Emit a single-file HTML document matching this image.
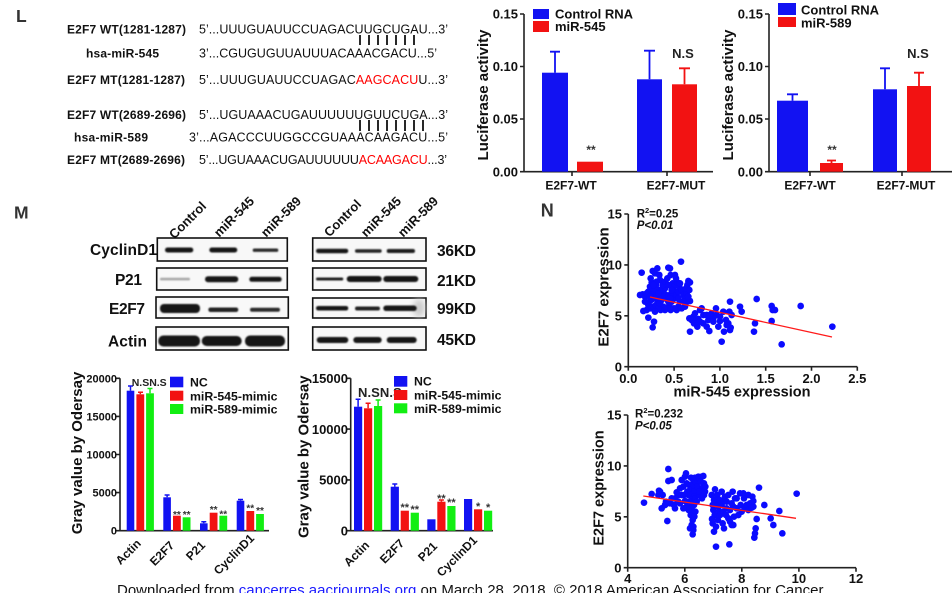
<!DOCTYPE html>
<html>
<head>
<meta charset="utf-8">
<style>
html,body{margin:0;padding:0;background:#fff;}
svg{display:block;}
text{font-family:"Liberation Sans",Arial,sans-serif;}
.b{font-weight:bold;}
</style>
</head>
<body>
<svg width="952" height="593" viewBox="0 0 952 593" xmlns="http://www.w3.org/2000/svg">
<defs>
<filter id="bl" x="-20%" y="-100%" width="140%" height="300%"><feGaussianBlur stdDeviation="0.9"/></filter>
<filter id="bl2" x="-50%" y="-50%" width="200%" height="200%"><feGaussianBlur stdDeviation="3"/></filter>
</defs>
<rect width="952" height="593" fill="#fff"/>

<!-- Panel letters -->
<text x="16" y="22" class="b" font-size="17.5" fill="#333">L</text>
<text x="14" y="218.3" class="b" font-size="17.5" fill="#333">M</text>
<text x="540.7" y="216.7" class="b" font-size="18" fill="#333">N</text>

<!-- Sequences -->
<g fill="#111">
<text x="67" y="33.3" class="b" font-size="12" textLength="119">E2F7 WT(1281-1287)</text>
<text x="199" y="33.3" font-size="12.5" textLength="249">5’...UUUGUAUUCCUAGACUUGCUGAU...3’</text>
<text x="86" y="57.3" class="b" font-size="12" textLength="73">hsa-miR-545</text>
<text x="199" y="57.3" font-size="12.5" textLength="238">3’...CGUGUGUUAUUUACAAACGACU...5’</text>
<text x="67" y="84" class="b" font-size="12" textLength="118">E2F7 MT(1281-1287)</text>
<text x="199" y="84" font-size="12.5" textLength="249">5’...UUUGUAUUCCUAGAC<tspan fill="#f00">AAGCACU</tspan>U...3’</text>
<text x="67" y="119" class="b" font-size="12" textLength="119">E2F7 WT(2689-2696)</text>
<text x="199" y="119" font-size="12.5" textLength="249">5’...UGUAAACUGAUUUUUUGUUCUGA...3’</text>
<text x="74" y="141.7" class="b" font-size="12" textLength="74">hsa-miR-589</text>
<text x="189" y="141.7" font-size="12.5" textLength="259">3’...AGACCCUUGGCCGUAAACAAGACU...5’</text>
<text x="67" y="164" class="b" font-size="12" textLength="118">E2F7 MT(2689-2696)</text>
<text x="199" y="164" font-size="12.5" textLength="248">5’...UGUAAACUGAUUUUUU<tspan fill="#f00">ACAAGACU</tspan>...3’</text>
</g>
<g stroke="#111" stroke-width="1.8">
<path d="M360 35V45M369 35V45M378 35V45M387 35V45M396 35V45M405 35V45M414 35V45"/>
<path d="M360 120V131M369 120V131M378 120V131M387 120V131M396 120V131M405 120V131M414 120V131M423 120V131"/>
</g>

<!-- Chart A: top middle -->
<g stroke="#222" stroke-width="1.6" fill="none">
<path d="M524 14V171.7H713"/>
<path d="M520 14H524M520 66.5H524M520 119H524M520 171.7H524M572 171.7V176M667 171.7V176"/>
</g>
<g class="b" font-size="13" fill="#111" text-anchor="end">
<text x="518" y="18.6">0.15</text>
<text x="518" y="71.1">0.10</text>
<text x="518" y="123.6">0.05</text>
<text x="518" y="176.3">0.00</text>
</g>
<text transform="translate(488 95) rotate(-90)" text-anchor="middle" class="b" font-size="15" fill="#111">Luciferase activity</text>
<rect x="542" y="72.7" width="26" height="99" fill="#1212f2"/>
<path d="M555 72.7V51.7M550 51.7H560" stroke="#1212f2" stroke-width="1.8"/>
<rect x="577" y="161.7" width="26" height="10" fill="#f21212"/>
<rect x="637" y="79.3" width="25" height="92.4" fill="#1212f2"/>
<path d="M649.5 79.3V50.7M644 50.7H655" stroke="#1212f2" stroke-width="1.8"/>
<rect x="672" y="84.3" width="25" height="87.4" fill="#f21212"/>
<path d="M684.5 84.3V68.3M679 68.3H690" stroke="#f21212" stroke-width="1.8"/>
<text x="591" y="154" text-anchor="middle" class="b" font-size="12" fill="#333">**</text>
<text x="683" y="58" text-anchor="middle" class="b" font-size="13" fill="#222">N.S</text>
<rect x="533" y="9" width="16" height="10" fill="#1212f2"/>
<rect x="533" y="21" width="16" height="11" fill="#f21212"/>
<text x="555" y="18.5" class="b" font-size="13" fill="#111">Control RNA</text>
<text x="555" y="31" class="b" font-size="13" fill="#111">miR-545</text>
<text x="571" y="189.3" text-anchor="middle" class="b" font-size="12" fill="#111">E2F7-WT</text>
<text x="676" y="189.3" text-anchor="middle" class="b" font-size="12" fill="#111">E2F7-MUT</text>

<!-- Chart B: top right -->
<g stroke="#222" stroke-width="1.6" fill="none">
<path d="M769 14V171.7H952"/>
<path d="M765 14H769M765 66.5H769M765 119H769M765 171.7H769M810 171.7V176M902 171.7V176"/>
</g>
<g class="b" font-size="13" fill="#111" text-anchor="end">
<text x="763" y="18.6">0.15</text>
<text x="763" y="71.1">0.10</text>
<text x="763" y="123.6">0.05</text>
<text x="763" y="176.3">0.00</text>
</g>
<text transform="translate(733 95) rotate(-90)" text-anchor="middle" class="b" font-size="15" fill="#111">Luciferase activity</text>
<rect x="777" y="100.7" width="31" height="71" fill="#1212f2"/>
<path d="M792.5 100.7V94.3M787 94.3H798" stroke="#1212f2" stroke-width="1.8"/>
<rect x="820" y="163" width="23" height="8.7" fill="#f21212"/>
<path d="M831.5 163V160.5M827 160.5H836" stroke="#f21212" stroke-width="1.8"/>
<rect x="873" y="89.3" width="24" height="82.4" fill="#1212f2"/>
<path d="M885 89.3V68.3M880 68.3H890" stroke="#1212f2" stroke-width="1.8"/>
<rect x="907" y="86" width="24" height="85.7" fill="#f21212"/>
<path d="M919 86V72.7M914 72.7H924" stroke="#f21212" stroke-width="1.8"/>
<text x="832" y="154" text-anchor="middle" class="b" font-size="12" fill="#333">**</text>
<text x="918" y="58" text-anchor="middle" class="b" font-size="13" fill="#222">N.S</text>
<rect x="778" y="3" width="18" height="12" fill="#1212f2"/>
<rect x="778" y="17" width="18" height="10" fill="#f21212"/>
<text x="801" y="14.5" class="b" font-size="13" fill="#111">Control RNA</text>
<text x="801" y="27.5" class="b" font-size="13" fill="#111">miR-589</text>
<text x="810" y="189.3" text-anchor="middle" class="b" font-size="12" fill="#111">E2F7-WT</text>
<text x="906" y="189.3" text-anchor="middle" class="b" font-size="12" fill="#111">E2F7-MUT</text>

<!-- Western blot -->
<g class="b" font-size="13" fill="#111" text-anchor="end">
<text transform="rotate(-45 207 207)" x="207" y="207">Control</text>
<text transform="rotate(-45 255 202)" x="255" y="202">miR-545</text>
<text transform="rotate(-45 302 202)" x="302" y="202">miR-589</text>
<text transform="rotate(-45 362 205)" x="362" y="205">Control</text>
<text transform="rotate(-45 402 202)" x="402" y="202">miR-545</text>
<text transform="rotate(-45 439 202)" x="439" y="202">miR-589</text>
</g>
<g fill="#111" class="b" font-size="15.5">
<text x="90" y="255" textLength="67">CyclinD1</text>
<text x="115" y="285" textLength="27">P21</text>
<text x="109" y="314" textLength="36">E2F7</text>
<text x="108" y="346.7" textLength="39">Actin</text>
<text x="437" y="256" textLength="39">36KD</text>
<text x="437" y="286" textLength="39">21KD</text>
<text x="437" y="314" textLength="39">99KD</text>
<text x="437" y="345" textLength="39">45KD</text>
</g>
<g fill="#f8f8f8" stroke="#111" stroke-width="1.6">
<rect x="157.3" y="238" width="130" height="23"/>
<rect x="156.7" y="268" width="130.6" height="22"/>
<rect x="156" y="297" width="132.3" height="21"/>
<rect x="156" y="327" width="132.3" height="23"/>
<rect x="312.7" y="238" width="113.3" height="23"/>
<rect x="312.7" y="268" width="113.3" height="22"/>
<rect x="312.7" y="298" width="113.3" height="20"/>
<rect x="312.7" y="327" width="113.3" height="23"/>
</g>
<ellipse cx="419" cy="308" rx="6" ry="9" fill="#ccc" filter="url(#bl2)"/>
<g fill="#151515" filter="url(#bl)">
<!-- left CyclinD1 -->
<rect x="165" y="247.5" width="28.3" height="5" rx="2.5"/>
<rect x="209.3" y="247.5" width="28" height="5" rx="2.5"/>
<rect x="252.7" y="248.5" width="25.6" height="3.4" rx="1.7" fill="#2a2a2a"/>
<!-- left P21 -->
<rect x="160" y="277.8" width="30" height="2.6" rx="1.3" fill="#a8a8a8"/>
<rect x="205" y="276.3" width="33.3" height="6" rx="3"/>
<rect x="249.3" y="276.8" width="32.4" height="5" rx="2.5"/>
<!-- left E2F7 -->
<rect x="160" y="304" width="40" height="9" rx="4"/>
<rect x="208.3" y="307.5" width="30" height="4.5" rx="2.2" fill="#222"/>
<rect x="250" y="307.8" width="30" height="4" rx="2" fill="#2a2a2a"/>
<!-- left Actin -->
<rect x="158.3" y="335.5" width="41.7" height="11" rx="5"/>
<rect x="201.7" y="336" width="40" height="10" rx="5"/>
<rect x="245" y="335.5" width="40" height="11" rx="5"/>
<!-- right CyclinD1 -->
<rect x="316" y="248.7" width="32.3" height="4.5" rx="2.2"/>
<rect x="355" y="249.2" width="26.7" height="3.5" rx="1.7" fill="#222"/>
<rect x="386.7" y="249" width="28.3" height="4" rx="2" fill="#1c1c1c"/>
<!-- right P21 -->
<rect x="316" y="277.5" width="27.3" height="3" rx="1.5" fill="#222"/>
<rect x="346.7" y="276" width="35" height="6" rx="3"/>
<rect x="383.3" y="276" width="35" height="6" rx="3"/>
<!-- right E2F7 -->
<rect x="316" y="306" width="32.3" height="4.5" rx="2.2"/>
<rect x="355" y="306.5" width="25" height="4" rx="2" fill="#222"/>
<rect x="383.3" y="305.5" width="33.4" height="5.5" rx="2.7"/>
<!-- right Actin -->
<rect x="316.7" y="337" width="31.6" height="6" rx="3"/>
<rect x="353.3" y="337" width="28.4" height="6" rx="3"/>
<rect x="386.7" y="337" width="30" height="6" rx="3"/>
</g>

<!-- Chart C: bottom left bars -->
<g stroke="#222" stroke-width="1.6" fill="none">
<path d="M120 378.3V530.7H269"/>
<path d="M116 378.3H120M116 416.4H120M116 454.5H120M116 492.6H120M116 530.7H120"/>
</g>
<g class="b" font-size="11" fill="#111" text-anchor="end">
<text x="117" y="382.3">20000</text>
<text x="117" y="420.4">15000</text>
<text x="117" y="458.5">10000</text>
<text x="117" y="496.6">5000</text>
<text x="117" y="534.7">0</text>
</g>
<text transform="translate(82 453) rotate(-90)" text-anchor="middle" class="b" font-size="15" fill="#111">Gray value by Odersay</text>
<g>
<rect x="126.7" y="390.7" width="7.6" height="140" fill="#1212f2"/>
<rect x="136.4" y="394.3" width="7.8" height="136.4" fill="#f21212"/>
<rect x="146.1" y="393.3" width="7.8" height="137.4" fill="#12ee12"/>
<rect x="163.3" y="497.3" width="7.6" height="33.4" fill="#1212f2"/>
<rect x="173" y="515.7" width="7.8" height="15" fill="#f21212"/>
<rect x="182.7" y="517.3" width="7.8" height="13.4" fill="#12ee12"/>
<rect x="200" y="523.3" width="7.6" height="7.4" fill="#1212f2"/>
<rect x="209.7" y="512.7" width="7.8" height="18" fill="#f21212"/>
<rect x="219.4" y="515.7" width="7.8" height="15" fill="#12ee12"/>
<rect x="236.7" y="500.7" width="7.6" height="30" fill="#1212f2"/>
<rect x="246.4" y="511" width="7.8" height="19.7" fill="#f21212"/>
<rect x="256.1" y="514" width="7.8" height="16.7" fill="#12ee12"/>
</g>
<g stroke-width="1.5" fill="none">
<path d="M130.5 390.7V386M128 386H133" stroke="#1212f2"/>
<path d="M140.3 394.3V392.3M138 392.3H143" stroke="#f21212"/>
<path d="M150 393.3V388.5M147.5 388.5H152.5" stroke="#12ee12"/>
<path d="M167.1 497.3V495M164.6 495H169.6" stroke="#1212f2"/>
<path d="M203.8 523.3V521.8M201.3 521.8H206.3" stroke="#1212f2"/>
<path d="M240.5 500.7V499.5M238 499.5H243" stroke="#1212f2"/>
</g>
<g class="b" font-size="10" fill="#333" text-anchor="middle">
<text x="176.9" y="518">**</text>
<text x="186.6" y="518">**</text>
<text x="213.6" y="513">**</text>
<text x="223.3" y="517.7">**</text>
<text x="250.3" y="511.7">**</text>
<text x="260" y="514">**</text>
</g>
<text x="131.7" y="386" class="b" font-size="10.5" fill="#222" textLength="35">N.SN.S</text>
<rect x="170" y="376.7" width="13.3" height="10.6" fill="#1212f2"/>
<rect x="170" y="390.7" width="13.3" height="10" fill="#f21212"/>
<rect x="170" y="404" width="13.3" height="10" fill="#12ee12"/>
<g class="b" font-size="12.3" fill="#111">
<text x="190" y="386.5">NC</text>
<text x="190" y="400.3">miR-545-mimic</text>
<text x="190" y="413.5">miR-589-mimic</text>
</g>
<g class="b" font-size="12" fill="#111" text-anchor="end">
<text transform="rotate(-45 141.7 544.2)" x="141.7" y="544.2">Actin</text>
<text transform="rotate(-45 175 546.2)" x="175" y="546.2">E2F7</text>
<text transform="rotate(-45 206 546)" x="206" y="546">P21</text>
<text transform="rotate(-45 255 539)" x="255" y="539">CyclinD1</text>
</g>

<!-- Chart D: bottom middle bars -->
<g stroke="#222" stroke-width="1.6" fill="none">
<path d="M350.7 378.3V530.7H493"/>
<path d="M346.7 378.3H350.7M346.7 429.1H350.7M346.7 479.9H350.7M346.7 530.7H350.7"/>
</g>
<g class="b" font-size="13" fill="#111" text-anchor="end">
<text x="348" y="383">15000</text>
<text x="348" y="433.8">10000</text>
<text x="348" y="484.6">5000</text>
<text x="348" y="535.4">0</text>
</g>
<text transform="translate(308.5 456.7) rotate(-90)" text-anchor="middle" class="b" font-size="15" fill="#111">Gray value by Odersay</text>
<g>
<rect x="354" y="406.7" width="8.2" height="124" fill="#1212f2"/>
<rect x="364" y="408.3" width="8.2" height="122.4" fill="#f21212"/>
<rect x="374" y="406" width="8.2" height="124.7" fill="#12ee12"/>
<rect x="390.7" y="486.7" width="8.2" height="44" fill="#1212f2"/>
<rect x="400.7" y="510.7" width="8.2" height="20" fill="#f21212"/>
<rect x="410.7" y="512.7" width="8.2" height="18" fill="#12ee12"/>
<rect x="427.3" y="519.3" width="8.2" height="11.4" fill="#1212f2"/>
<rect x="437.3" y="501.7" width="8.2" height="29" fill="#f21212"/>
<rect x="447.3" y="506" width="8.2" height="24.7" fill="#12ee12"/>
<rect x="464" y="499" width="8.2" height="31.7" fill="#1212f2"/>
<rect x="474" y="509.3" width="8.2" height="21.4" fill="#f21212"/>
<rect x="484" y="510.7" width="8.2" height="20" fill="#12ee12"/>
</g>
<g stroke-width="1.5" fill="none">
<path d="M358.1 406.7V399.3M355.6 399.3H360.6" stroke="#1212f2"/>
<path d="M368.1 408.3V403.3M365.6 403.3H370.6" stroke="#f21212"/>
<path d="M378.1 406V400M375.6 400H380.6" stroke="#12ee12"/>
<path d="M394.8 486.7V484M392.3 484H397.3" stroke="#1212f2"/>
<path d="M441.4 501.7V500M438.9 500H443.9" stroke="#f21212"/>
</g>
<g class="b" font-size="11" fill="#333" text-anchor="middle">
<text x="404.8" y="511">**</text>
<text x="414.8" y="513.2">**</text>
<text x="441.4" y="502">**</text>
<text x="451.4" y="506.2">**</text>
<text x="478.1" y="510.2">*</text>
<text x="488.1" y="510.9">*</text>
</g>
<text x="358" y="397" class="b" font-size="13" fill="#222" textLength="43.7">N.SN.S</text>
<rect x="394" y="376" width="13.3" height="10.7" fill="#1212f2"/>
<rect x="394" y="390" width="13.3" height="10" fill="#f21212"/>
<rect x="394" y="403.3" width="13.3" height="10" fill="#12ee12"/>
<g class="b" font-size="12.3" fill="#111">
<text x="414" y="385.5">NC</text>
<text x="414" y="399.5">miR-545-mimic</text>
<text x="414" y="413">miR-589-mimic</text>
</g>
<g class="b" font-size="12" fill="#111" text-anchor="end">
<text transform="rotate(-45 370 546)" x="370" y="546">Actin</text>
<text transform="rotate(-45 405 544)" x="405" y="544">E2F7</text>
<text transform="rotate(-45 438 547)" x="438" y="547">P21</text>
<text transform="rotate(-45 478 541)" x="478" y="541">CyclinD1</text>
</g>

<!-- Scatter top -->
<g stroke="#222" stroke-width="1.6" fill="none">
<path d="M628.3 214V366.7H857.3"/>
<path d="M624.3 214H628.3M624.3 264.9H628.3M624.3 315.8H628.3M624.3 366.7H628.3M628.3 366.7V370.7M674.1 366.7V370.7M719.9 366.7V370.7M765.7 366.7V370.7M811.5 366.7V370.7M857.3 366.7V370.7"/>
</g>
<g class="b" font-size="13" fill="#111" text-anchor="end">
<text x="622" y="218.7">15</text>
<text x="622" y="269.6">10</text>
<text x="622" y="320.5">5</text>
<text x="622" y="371.4">0</text>
</g>
<g class="b" font-size="13" fill="#111" text-anchor="middle">
<text x="628.3" y="383">0.0</text>
<text x="674.1" y="383">0.5</text>
<text x="719.9" y="383">1.0</text>
<text x="765.7" y="383">1.5</text>
<text x="811.5" y="383">2.0</text>
<text x="857.3" y="383">2.5</text>
</g>
<text x="742" y="396.5" text-anchor="middle" class="b" font-size="14.5" fill="#111">miR-545 expression</text>
<text transform="translate(608.5 287) rotate(-90)" text-anchor="middle" class="b" font-size="15" fill="#111">E2F7 expression</text>
<text x="636.7" y="217.7" class="b" font-size="11.5" fill="#111">R<tspan font-size="7.5" dy="-4.5">2</tspan><tspan dy="4.5">=0.25</tspan></text>
<text x="636.7" y="229" class="b" font-size="11.5" font-style="italic" fill="#111">P&lt;0.01</text>
<g transform="translate(580 195) scale(0.33333)" fill="#0b0bff">
<circle cx="185" cy="233" r="10"/><circle cx="180" cy="300" r="10"/><circle cx="188" cy="298" r="10"/><circle cx="195" cy="305" r="10"/><circle cx="200" cy="295" r="10"/><circle cx="205" cy="290" r="10"/><circle cx="210" cy="275" r="10"/><circle cx="215" cy="262" r="10"/><circle cx="212" cy="250" r="10"/><circle cx="218" cy="228" r="10"/><circle cx="225" cy="235" r="10"/><circle cx="232" cy="220" r="10"/><circle cx="238" cy="240" r="10"/><circle cx="240" cy="255" r="10"/><circle cx="228" cy="270" r="10"/><circle cx="222" cy="285" r="10"/><circle cx="215" cy="300" r="10"/><circle cx="210" cy="318" r="10"/><circle cx="205" cy="330" r="10"/><circle cx="200" cy="345" r="10"/><circle cx="190" cy="348" r="10"/><circle cx="212" cy="340" r="10"/><circle cx="220" cy="335" r="10"/><circle cx="228" cy="330" r="10"/><circle cx="235" cy="320" r="10"/><circle cx="240" cy="310" r="10"/><circle cx="245" cy="300" r="10"/><circle cx="250" cy="290" r="10"/><circle cx="255" cy="280" r="10"/><circle cx="248" cy="270" r="10"/><circle cx="255" cy="260" r="10"/><circle cx="262" cy="250" r="10"/><circle cx="265" cy="218" r="10"/><circle cx="270" cy="220" r="10"/><circle cx="272" cy="240" r="10"/><circle cx="278" cy="265" r="10"/><circle cx="282" cy="275" r="10"/><circle cx="285" cy="290" r="10"/><circle cx="280" cy="305" r="10"/><circle cx="275" cy="320" r="10"/><circle cx="268" cy="330" r="10"/><circle cx="262" cy="340" r="10"/><circle cx="255" cy="345" r="10"/><circle cx="250" cy="335" r="10"/><circle cx="242" cy="345" r="10"/><circle cx="235" cy="340" r="10"/><circle cx="225" cy="350" r="10"/><circle cx="218" cy="312" r="10"/><circle cx="230" cy="300" r="10"/><circle cx="238" cy="285" r="10"/><circle cx="245" cy="315" r="10"/><circle cx="260" cy="310" r="10"/><circle cx="270" cy="300" r="10"/><circle cx="285" cy="310" r="10"/><circle cx="290" cy="300" r="10"/><circle cx="295" cy="290" r="10"/><circle cx="298" cy="275" r="10"/><circle cx="292" cy="262" r="10"/><circle cx="288" cy="250" r="10"/><circle cx="285" cy="240" r="10"/><circle cx="303" cy="200" r="10"/><circle cx="300" cy="265" r="10"/><circle cx="305" cy="285" r="10"/><circle cx="310" cy="300" r="10"/><circle cx="315" cy="310" r="10"/><circle cx="320" cy="295" r="10"/><circle cx="318" cy="280" r="10"/><circle cx="322" cy="270" r="10"/><circle cx="325" cy="258" r="10"/><circle cx="330" cy="262" r="10"/><circle cx="328" cy="285" r="10"/><circle cx="322" cy="320" r="10"/><circle cx="310" cy="320" r="10"/><circle cx="300" cy="320" r="10"/><circle cx="295" cy="335" r="10"/><circle cx="290" cy="345" r="10"/><circle cx="282" cy="340" r="10"/><circle cx="272" cy="345" r="10"/><circle cx="265" cy="320" r="10"/><circle cx="258" cy="300" r="10"/><circle cx="248" cy="305" r="10"/><circle cx="235" cy="295" r="10"/><circle cx="225" cy="310" r="10"/><circle cx="205" cy="368" r="10"/><circle cx="222" cy="380" r="10"/><circle cx="218" cy="397" r="10"/><circle cx="330" cy="318" r="10"/><circle cx="325" cy="305" r="10"/><circle cx="315" cy="335" r="10"/><circle cx="305" cy="340" r="10"/><circle cx="295" cy="310" r="10"/><circle cx="275" cy="285" r="10"/><circle cx="265" cy="270" r="10"/><circle cx="230" cy="260" r="10"/><circle cx="220" cy="270" r="10"/><circle cx="210" cy="305" r="10"/><circle cx="195" cy="320" r="10"/><circle cx="240" cy="325" r="10"/><circle cx="270" cy="310" r="10"/>
<circle cx="330" cy="410" r="10"/><circle cx="328" cy="370" r="10"/><circle cx="340" cy="365" r="10"/><circle cx="335" cy="375" r="10"/><circle cx="350" cy="375" r="10"/><circle cx="355" cy="372" r="10"/><circle cx="360" cy="345" r="10"/><circle cx="365" cy="340" r="10"/><circle cx="370" cy="360" r="10"/><circle cx="370" cy="385" r="10"/><circle cx="380" cy="395" r="10"/><circle cx="385" cy="375" r="10"/><circle cx="388" cy="408" r="10"/><circle cx="400" cy="370" r="10"/><circle cx="410" cy="360" r="10"/><circle cx="408" cy="340" r="10"/><circle cx="420" cy="365" r="10"/><circle cx="425" cy="440" r="10"/><circle cx="432" cy="410" r="10"/><circle cx="440" cy="390" r="10"/><circle cx="445" cy="385" r="10"/><circle cx="448" cy="350" r="10"/><circle cx="450" cy="320" r="10"/><circle cx="450" cy="405" r="10"/><circle cx="452" cy="398" r="10"/><circle cx="455" cy="360" r="10"/><circle cx="438" cy="375" r="10"/><circle cx="420" cy="378" r="10"/><circle cx="395" cy="355" r="10"/><circle cx="380" cy="360" r="10"/><circle cx="360" cy="380" r="10"/><circle cx="345" cy="355" r="10"/><circle cx="480" cy="335" r="10"/><circle cx="485" cy="350" r="10"/><circle cx="522" cy="410" r="10"/><circle cx="525" cy="385" r="10"/><circle cx="530" cy="312" r="10"/><circle cx="575" cy="333" r="10"/><circle cx="578" cy="345" r="10"/><circle cx="575" cy="378" r="10"/><circle cx="585" cy="345" r="10"/><circle cx="605" cy="448" r="10"/><circle cx="662" cy="333" r="10"/><circle cx="757" cy="395" r="10"/><circle cx="415" cy="395" r="10"/><circle cx="430" cy="350" r="10"/><circle cx="400" cy="380" r="10"/><circle cx="390" cy="360" r="10"/><circle cx="352" cy="395" r="10"/><circle cx="342" cy="385" r="10"/>
</g>
<path d="M650 297L832 337" stroke="#ff1a1a" stroke-width="1.3"/>

<!-- Scatter bottom -->
<g stroke="#222" stroke-width="1.6" fill="none">
<path d="M627.7 415V567.7H856"/>
<path d="M623.7 415H627.7M623.7 465.9H627.7M623.7 516.8H627.7M623.7 567.7H627.7M627.7 567.7V571.7M684.8 567.7V571.7M741.8 567.7V571.7M798.9 567.7V571.7M856 567.7V571.7"/>
</g>
<g class="b" font-size="13" fill="#111" text-anchor="end">
<text x="621.5" y="419.7">15</text>
<text x="621.5" y="470.6">10</text>
<text x="621.5" y="521.5">5</text>
<text x="621.5" y="572.4">0</text>
</g>
<g class="b" font-size="13" fill="#111" text-anchor="middle">
<text x="627.7" y="583">4</text>
<text x="684.8" y="583">6</text>
<text x="741.8" y="583">8</text>
<text x="798.9" y="583">10</text>
<text x="856" y="583">12</text>
</g>
<text transform="translate(603.5 488) rotate(-90)" text-anchor="middle" class="b" font-size="14.5" fill="#111">E2F7 expression</text>
<text x="635" y="417.7" class="b" font-size="11.5" fill="#111">R<tspan font-size="7.5" dy="-4.5">2</tspan><tspan dy="4.5">=0.232</tspan></text>
<text x="635" y="429.3" class="b" font-size="11.5" font-style="italic" fill="#111">P&lt;0.05</text>
<g transform="translate(580 395) scale(0.33333)" fill="#0b0bff">
<circle cx="192" cy="323" r="10"/><circle cx="215" cy="297" r="10"/><circle cx="237" cy="287" r="10"/><circle cx="235" cy="300" r="10"/><circle cx="240" cy="290" r="10"/><circle cx="245" cy="340" r="10"/><circle cx="255" cy="330" r="10"/><circle cx="262" cy="378" r="10"/><circle cx="265" cy="258" r="10"/><circle cx="275" cy="255" r="10"/><circle cx="265" cy="222" r="10"/><circle cx="270" cy="325" r="10"/><circle cx="275" cy="310" r="10"/><circle cx="285" cy="340" r="10"/><circle cx="290" cy="292" r="10"/><circle cx="295" cy="300" r="10"/><circle cx="300" cy="325" r="10"/><circle cx="305" cy="255" r="10"/><circle cx="310" cy="275" r="10"/><circle cx="315" cy="245" r="10"/><circle cx="318" cy="235" r="10"/><circle cx="320" cy="265" r="10"/><circle cx="322" cy="290" r="10"/><circle cx="325" cy="300" r="10"/>
<circle cx="328" cy="270" r="10"/><circle cx="330" cy="285" r="10"/><circle cx="332" cy="300" r="10"/><circle cx="335" cy="315" r="10"/><circle cx="330" cy="330" r="10"/><circle cx="336" cy="345" r="10"/><circle cx="332" cy="360" r="10"/><circle cx="338" cy="375" r="10"/><circle cx="335" cy="390" r="10"/><circle cx="340" cy="405" r="10"/><circle cx="338" cy="418" r="10"/><circle cx="342" cy="330" r="10"/><circle cx="345" cy="300" r="10"/><circle cx="328" cy="320" r="10"/><circle cx="344" cy="285" r="10"/><circle cx="340" cy="270" r="10"/><circle cx="326" cy="345" r="10"/><circle cx="333" cy="248" r="10"/><circle cx="340" cy="255" r="10"/><circle cx="348" cy="262" r="10"/><circle cx="352" cy="275" r="10"/><circle cx="346" cy="310" r="10"/><circle cx="350" cy="320" r="10"/><circle cx="346" cy="350" r="10"/><circle cx="343" cy="365" r="10"/><circle cx="340" cy="395" r="10"/><circle cx="330" cy="400" r="10"/>
<circle cx="345" cy="248" r="10"/><circle cx="355" cy="245" r="10"/><circle cx="365" cy="245" r="10"/><circle cx="370" cy="243" r="10"/><circle cx="372" cy="265" r="10"/><circle cx="375" cy="290" r="10"/><circle cx="360" cy="300" r="10"/><circle cx="368" cy="278" r="10"/><circle cx="362" cy="260" r="10"/><circle cx="358" cy="290" r="10"/><circle cx="372" cy="300" r="10"/><circle cx="376" cy="275" r="10"/><circle cx="366" cy="310" r="10"/>
<circle cx="248" cy="300" r="10"/><circle cx="258" cy="320" r="10"/><circle cx="282" cy="330" r="10"/><circle cx="295" cy="320" r="10"/><circle cx="285" cy="310" r="10"/><circle cx="305" cy="300" r="10"/><circle cx="300" cy="280" r="10"/><circle cx="312" cy="300" r="10"/><circle cx="315" cy="318" r="10"/><circle cx="320" cy="335" r="10"/><circle cx="310" cy="340" r="10"/>
<circle cx="398" cy="385" r="10"/><circle cx="402" cy="410" r="10"/><circle cx="408" cy="455" r="10"/><circle cx="405" cy="283" r="10"/><circle cx="410" cy="320" r="10"/><circle cx="398" cy="330" r="10"/><circle cx="400" cy="345" r="10"/><circle cx="404" cy="360" r="10"/><circle cx="396" cy="372" r="10"/><circle cx="412" cy="300" r="10"/><circle cx="415" cy="335" r="10"/><circle cx="418" cy="350" r="10"/><circle cx="402" cy="315" r="10"/><circle cx="395" cy="300" r="10"/><circle cx="408" cy="395" r="10"/><circle cx="414" cy="375" r="10"/><circle cx="420" cy="360" r="10"/><circle cx="425" cy="330" r="10"/><circle cx="430" cy="315" r="10"/><circle cx="435" cy="305" r="10"/><circle cx="440" cy="340" r="10"/><circle cx="445" cy="370" r="10"/><circle cx="450" cy="380" r="10"/><circle cx="455" cy="390" r="10"/><circle cx="460" cy="335" r="10"/><circle cx="458" cy="290" r="10"/><circle cx="465" cy="310" r="10"/><circle cx="470" cy="340" r="10"/><circle cx="480" cy="295" r="10"/><circle cx="482" cy="330" r="10"/><circle cx="490" cy="295" r="10"/><circle cx="485" cy="350" r="10"/><circle cx="495" cy="340" r="10"/><circle cx="500" cy="330" r="10"/><circle cx="505" cy="345" r="10"/><circle cx="510" cy="325" r="10"/><circle cx="515" cy="338" r="10"/><circle cx="517" cy="305" r="10"/><circle cx="520" cy="335" r="10"/><circle cx="523" cy="428" r="10"/><circle cx="525" cy="415" r="10"/><circle cx="527" cy="400" r="10"/><circle cx="530" cy="372" r="10"/><circle cx="537" cy="278" r="10"/><circle cx="553" cy="330" r="10"/><circle cx="572" cy="370" r="10"/><circle cx="580" cy="390" r="10"/><circle cx="598" cy="348" r="10"/><circle cx="607" cy="415" r="10"/><circle cx="650" cy="296" r="10"/><circle cx="448" cy="448" r="10"/><circle cx="460" cy="390" r="10"/><circle cx="430" cy="350" r="10"/><circle cx="440" cy="320" r="10"/><circle cx="445" cy="300" r="10"/><circle cx="450" cy="345" r="10"/><circle cx="428" cy="385" r="10"/><circle cx="438" cy="360" r="10"/><circle cx="455" cy="325" r="10"/><circle cx="470" cy="310" r="10"/><circle cx="462" cy="365" r="10"/><circle cx="475" cy="360" r="10"/><circle cx="492" cy="310" r="10"/><circle cx="505" cy="300" r="10"/><circle cx="520" cy="318" r="10"/><circle cx="425" cy="290" r="10"/><circle cx="418" cy="315" r="10"/><circle cx="432" cy="400" r="10"/>
</g>
<path d="M643.3 496L796 518.3" stroke="#ff1a1a" stroke-width="1.3"/>

<!-- Footer -->
<text x="117" y="595" font-size="15" fill="#111">Downloaded from <tspan fill="#1a1aff">cancerres.aacrjournals.org</tspan> on March 28, 2018. © 2018 American Association for Cancer</text>
</svg>
</body>
</html>
